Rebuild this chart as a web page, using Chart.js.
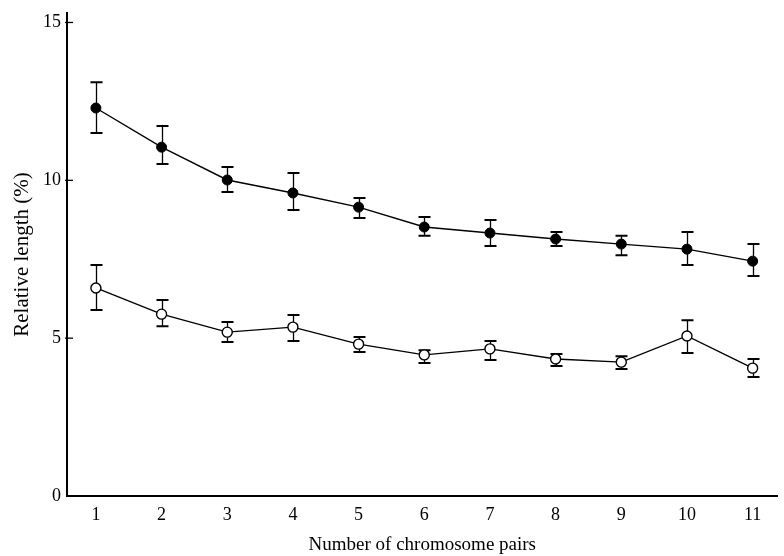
<!DOCTYPE html>
<html>
<head>
<meta charset="utf-8">
<script src="https://cdn.jsdelivr.net/npm/chart.js@4/dist/chart.umd.min.js"></script>
<style>
  html, body { margin: 0; padding: 0; background: #fff; }
  #wrap { width: 784px; height: 556px; position: relative; }
</style>
</head>
<body>
<div id="wrap"><canvas id="chart"></canvas></div>
<script>
// Chromosome pair numbers
const pairs = [1, 2, 3, 4, 5, 6, 7, 8, 9, 10, 11];

// Filled circles: mean relative length (%) with upper/lower error-bar ends
const filledMean = [12.29, 11.05, 10.01, 9.60, 9.15, 8.52, 8.33, 8.14, 7.98, 7.82, 7.44];
const filledHigh = [13.11, 11.72, 10.42, 10.23, 9.44, 8.84, 8.74, 8.36, 8.24, 8.36, 7.98];
const filledLow  = [11.50, 10.52, 9.63, 9.06, 8.81, 8.24, 7.92, 7.92, 7.63, 7.32, 6.97];

// Open circles: mean relative length (%) with upper/lower error-bar ends
const openMean = [6.59, 5.76, 5.19, 5.35, 4.81, 4.47, 4.66, 4.34, 4.24, 5.07, 4.05];
const openHigh = [7.32, 6.21, 5.51, 5.73, 5.04, 4.62, 4.91, 4.50, 4.43, 5.57, 4.34];
const openLow  = [5.89, 5.38, 4.88, 4.91, 4.56, 4.21, 4.31, 4.12, 4.02, 4.53, 3.77];

// Y-axis tick values
const yTicks = [0, 5, 10, 15];

const FONT = 'Liberation Serif, Times New Roman, serif';

// Error bars (drawn under the markers) and inward y-axis tick marks
const errorBars = {
  id: 'errorBars',
  beforeDatasetsDraw(chart) {
    const { ctx, scales: { x, y } } = chart;
    ctx.save();
    ctx.strokeStyle = '#000';
    chart.data.datasets.forEach(ds => {
      const hi = ds.errHigh, lo = ds.errLow;
      ds.data.forEach((pt, i) => {
        const px = Math.round(x.getPixelForValue(pt.x)) + 0.5;
        const pHi = y.getPixelForValue(hi[i]);
        const pLo = y.getPixelForValue(lo[i]);
        ctx.lineWidth = 1.3;
        ctx.beginPath();
        ctx.moveTo(px, pHi); ctx.lineTo(px, pLo);
        ctx.stroke();
        ctx.lineWidth = 2;
        ctx.beginPath();
        ctx.moveTo(px - 6, pHi); ctx.lineTo(px + 6, pHi);
        ctx.moveTo(px - 6, pLo); ctx.lineTo(px + 6, pLo);
        ctx.stroke();
      });
    });
    ctx.restore();
  },
  afterDraw(chart) {
    const { ctx, scales: { y }, chartArea } = chart;
    ctx.save();
    ctx.strokeStyle = '#000';
    ctx.lineWidth = 1.3;
    y.ticks.forEach(t => {
      if (t.value === 0) return;
      const py = y.getPixelForValue(t.value);
      ctx.beginPath();
      ctx.moveTo(chartArea.left - 2, py);
      ctx.lineTo(chartArea.left + 6, py);
      ctx.stroke();
    });
    ctx.restore();
  }
};

new Chart(document.getElementById('chart'), {
  type: 'line',
  data: {
    datasets: [
      {
        label: 'filled',
        data: pairs.map((p, i) => ({ x: p, y: filledMean[i] })),
        errHigh: filledHigh,
        errLow: filledLow,
        borderColor: '#000',
        borderWidth: 1.4,
        pointRadius: 5,
        pointBackgroundColor: '#000',
        pointBorderColor: '#000',
        pointBorderWidth: 1,
        tension: 0
      },
      {
        label: 'open',
        data: pairs.map((p, i) => ({ x: p, y: openMean[i] })),
        errHigh: openHigh,
        errLow: openLow,
        borderColor: '#000',
        borderWidth: 1.4,
        pointRadius: 5,
        pointBackgroundColor: '#fff',
        pointBorderColor: '#000',
        pointBorderWidth: 1.4,
        tension: 0
      }
    ]
  },
  options: {
    responsive: true,
    maintainAspectRatio: false,
    animation: false,
    events: [],
    layout: { padding: { left: 0, right: 0, top: 13, bottom: 0 } },
    plugins: { legend: { display: false }, tooltip: { enabled: false } },
    scales: {
      x: {
        type: 'linear',
        min: 0.56,
        max: 11.38,
        afterBuildTicks: s => { s.ticks = pairs.map(v => ({ value: v })); },
        afterFit: s => { s.height = 60; s.paddingLeft = 0; s.paddingRight = 0; },
        grid: { display: false, drawTicks: false },
        border: { display: true, color: '#000', width: 2 },
        ticks: {
          color: '#000',
          padding: 8,
          autoSkip: false,
          maxRotation: 0,
          font: { family: FONT, size: 18 }
        },
        title: {
          display: true,
          text: 'Number of chromosome pairs',
          color: '#000',
          padding: { top: 0, bottom: 0 },
          font: { family: FONT, size: 19 }
        }
      },
      y: {
        type: 'linear',
        min: 0,
        max: 15.3,
        afterBuildTicks: s => { s.ticks = yTicks.map(v => ({ value: v })); },
        afterFit: s => { s.width = 67; s.paddingTop = 0; s.paddingBottom = 0; },
        grid: { display: false, drawTicks: false },
        border: { display: true, color: '#000', width: 2 },
        ticks: {
          color: '#000',
          padding: 6,
          font: { family: FONT, size: 18 }
        },
        title: {
          display: true,
          text: 'Relative length (%)',
          color: '#000',
          padding: { top: 10, bottom: 0 },
          font: { family: FONT, size: 21 }
        }
      }
    }
  },
  plugins: [errorBars]
});
</script>
</body>
</html>
